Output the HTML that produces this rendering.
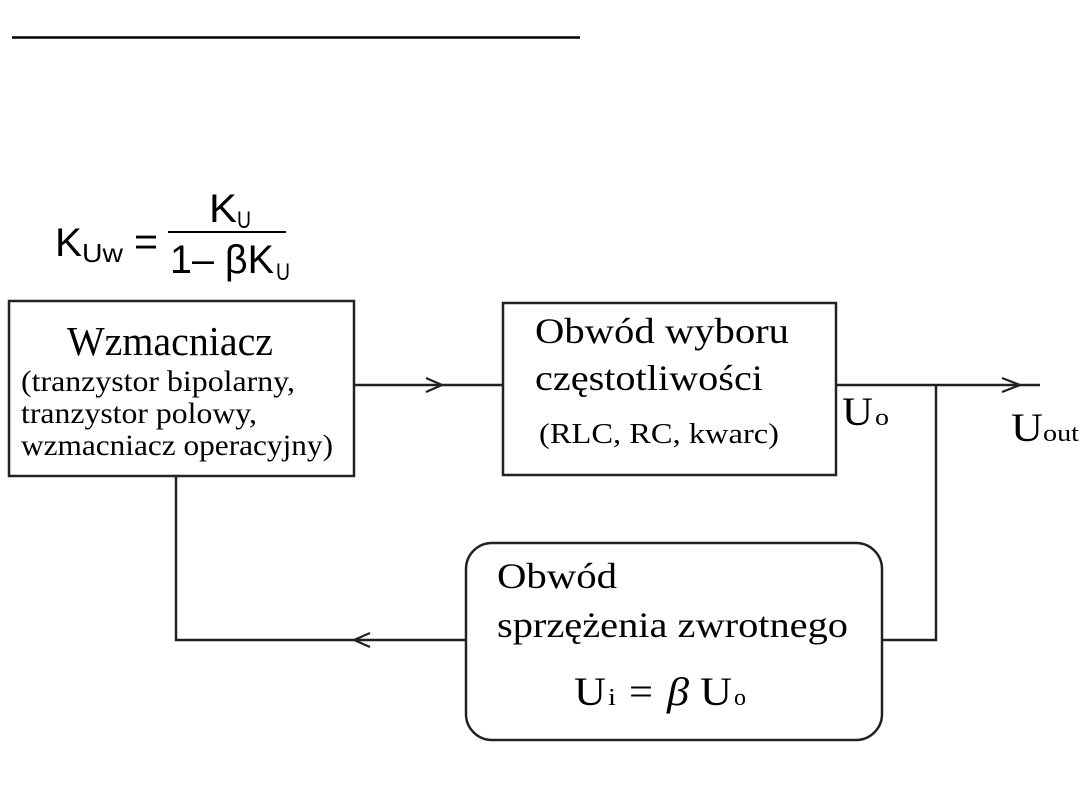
<!DOCTYPE html>
<html><head><meta charset="utf-8"><style>
html,body{margin:0;padding:0;background:#fff;}
svg{display:block;}
.s{font-family:"Liberation Serif",serif;fill:#000;}
.a{font-family:"Liberation Sans",sans-serif;fill:#000;}
</style></head><body>
<svg width="1080" height="810" viewBox="0 0 1080 810" xmlns="http://www.w3.org/2000/svg">
<line x1="12" y1="37.5" x2="580" y2="37.5" stroke="#000" stroke-width="2.5"/>
<!-- formula -->
<text class="a" x="55" y="256" font-size="40" textLength="27" lengthAdjust="spacingAndGlyphs">K</text>
<text class="a" x="82" y="262" font-size="26" textLength="41" lengthAdjust="spacingAndGlyphs">Uw</text>
<text class="a" x="134" y="255" font-size="40" textLength="24" lengthAdjust="spacingAndGlyphs">=</text>
<line x1="168" y1="232" x2="286" y2="232" stroke="#000" stroke-width="2"/>
<text class="a" x="209" y="222" font-size="40" textLength="28" lengthAdjust="spacingAndGlyphs">K</text>
<text class="a" x="237" y="228" font-size="24" textLength="14" lengthAdjust="spacingAndGlyphs">U</text>
<text class="a" x="170" y="273" font-size="40" textLength="104" lengthAdjust="spacingAndGlyphs">1– βK</text>
<text class="a" x="276" y="280" font-size="24" textLength="14" lengthAdjust="spacingAndGlyphs">U</text>
<!-- boxes -->
<g fill="none" stroke="#222" stroke-width="2.5">
<rect x="9" y="301" width="345" height="175"/>
<rect x="503" y="303" width="333" height="172"/>
<rect x="466" y="543" width="416" height="197" rx="26"/>
<polyline points="354,385 503,385"/>
<polyline points="836,385 1040,385"/>
<polyline points="936,385 936,640 882,640"/>
<polyline points="466,640 176,640 176,476"/>
<polyline points="426,378 442,385 426,392" stroke-width="2.2"/>
<polyline points="1002,378 1020,385 1002,392" stroke-width="2.2"/>
<polyline points="370,633 354,640 370,647" stroke-width="2.2"/>
</g>
<text class="s" x="67" y="355" font-size="41" textLength="206" lengthAdjust="spacingAndGlyphs">Wzmacniacz</text>
<text class="s" x="21" y="391" font-size="30" textLength="274" lengthAdjust="spacingAndGlyphs">(tranzystor bipolarny,</text>
<text class="s" x="21" y="423" font-size="30" textLength="236" lengthAdjust="spacingAndGlyphs">tranzystor polowy,</text>
<text class="s" x="21" y="455" font-size="30" textLength="312" lengthAdjust="spacingAndGlyphs">wzmacniacz operacyjny)</text>
<text class="s" x="535" y="343" font-size="36" textLength="254" lengthAdjust="spacingAndGlyphs">Obwód wyboru</text>
<text class="s" x="535" y="390" font-size="36" textLength="228" lengthAdjust="spacingAndGlyphs">częstotliwości</text>
<text class="s" x="539" y="443" font-size="29" textLength="240" lengthAdjust="spacingAndGlyphs">(RLC, RC, kwarc)</text>
<text class="s" x="842" y="425" font-size="40" textLength="31" lengthAdjust="spacingAndGlyphs">U</text>
<text class="s" x="875" y="425" font-size="24" textLength="14" lengthAdjust="spacingAndGlyphs">o</text>
<text class="s" x="1011" y="441" font-size="40" textLength="32" lengthAdjust="spacingAndGlyphs">U</text>
<text class="s" x="1043" y="441" font-size="24" textLength="36" lengthAdjust="spacingAndGlyphs">out</text>
<text class="s" x="497" y="588" font-size="36" textLength="120" lengthAdjust="spacingAndGlyphs">Obwód</text>
<text class="s" x="497" y="637" font-size="36" textLength="351" lengthAdjust="spacingAndGlyphs">sprzężenia zwrotnego</text>
<text class="s" x="574" y="705" font-size="40" textLength="32" lengthAdjust="spacingAndGlyphs">U</text>
<text class="s" x="608" y="705" font-size="24" textLength="8" lengthAdjust="spacingAndGlyphs">i</text>
<text class="s" x="629" y="705" font-size="40" textLength="24" lengthAdjust="spacingAndGlyphs">=</text>
<text class="s" x="667" y="705" font-size="40" font-style="italic" textLength="22" lengthAdjust="spacingAndGlyphs">β</text>
<text class="s" x="700" y="705" font-size="40" textLength="32" lengthAdjust="spacingAndGlyphs">U</text>
<text class="s" x="734" y="705" font-size="24" textLength="12" lengthAdjust="spacingAndGlyphs">o</text>
</svg>
</body></html>
